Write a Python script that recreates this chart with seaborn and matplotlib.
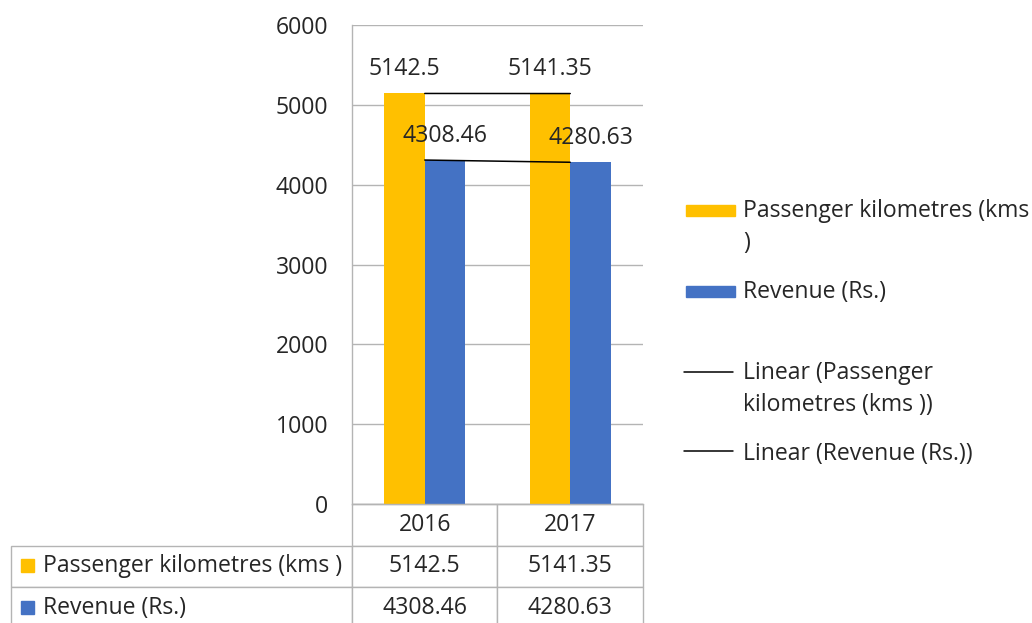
import pandas as pd
import seaborn as sns
import matplotlib.pyplot as plt
from matplotlib.table import Table
from matplotlib.patches import Rectangle

years = ["2016", "2017"]
series = ["Passenger kilometres (kms )", "Revenue (Rs.)"]
passenger_km = [5142.5, 5141.35]
revenue = [4308.46, 4280.63]
y_ticks = [0, 1000, 2000, 3000, 4000, 5000, 6000]
colors = {series[0]: "#FFC000", series[1]: "#4472C4"}

W, H = 1032, 623
GRID = "#B4B4B4"
TXT = "#262626"
FS = 16.6


def make_chart(out="out.png"):
    sns.set_style("white")
    plt.rcParams["font.family"] = ["Open Sans", "DejaVu Sans"]

    df = pd.DataFrame({
        "year": years * 2,
        "series": [series[0]] * 2 + [series[1]] * 2,
        "value": passenger_km + revenue,
    })

    fig = plt.figure(figsize=(W / 100, H / 100), dpi=100)
    # plot area in pixel terms: x 352..643, y 25..504
    ax = fig.add_axes([352 / W, 1 - 504 / H, (643 - 352) / W, (504 - 25) / H])

    sns.barplot(data=df, x="year", y="value", hue="series", palette=colors,
                width=0.56, saturation=1, legend=False, linewidth=0,
                edgecolor="none", ax=ax)

    # linear trend lines through the two years
    for vals in (passenger_km, revenue):
        sns.regplot(x=[0, 1], y=vals, scatter=False, ci=None, truncate=True,
                    line_kws={"color": "black", "lw": 1.1}, ax=ax)

    for cont in ax.containers:
        ax.bar_label(cont, fmt="{:g}", padding=9, fontsize=FS, color=TXT)

    ax.set_xlim(-0.5, 1.5)
    ax.set_ylim(0, 6000)
    ax.set_yticks(y_ticks)
    ax.set_xlabel("")
    ax.set_ylabel("")
    ax.tick_params(axis="x", length=0, labelbottom=False)
    ax.tick_params(axis="y", length=0, pad=17, labelsize=FS, labelcolor=TXT)
    ax.yaxis.grid(True, color=GRID, lw=1)
    ax.set_axisbelow(True)
    for s in ("top", "right"):
        ax.spines[s].set_visible(False)
    for s in ("left", "bottom"):
        ax.spines[s].set_color(GRID)
        ax.spines[s].set_linewidth(1)

    # data table under the plot
    ax_w, ax_h = 643 - 352, 504 - 25
    tab = Table(ax, bbox=[(11 - 352) / ax_w, -(629 - 504) / ax_h, 632 / ax_w, 125 / ax_h])
    col_w = [341 / 632, 145.5 / 632, 145.5 / 632]
    rows = [[""] + years,
            [series[0]] + [f"{v:g}" for v in passenger_km],
            [series[1]] + [f"{v:g}" for v in revenue]]
    for r, row in enumerate(rows):
        for c, txt in enumerate(row):
            if r == 0 and c == 0:
                continue
            cell = tab.add_cell(r, c, col_w[c], 1 / 3, text=txt,
                                loc="left" if c == 0 else "center")
            cell.set_edgecolor(GRID)
            cell.set_linewidth(1)
            cell.get_text().set_fontsize(FS)
            cell.get_text().set_color(TXT)
            if c == 0:
                cell.PAD = 0.094
    tab.auto_set_font_size(False)
    ax.add_table(tab)

    # legend and table keys, laid out in pixel coords
    lax = fig.add_axes([0, 0, 1, 1])
    lax.set_xlim(0, W)
    lax.set_ylim(H, 0)
    lax.axis("off")

    lax.add_patch(Rectangle((21, 559), 13, 13, color=colors[series[0]]))
    lax.add_patch(Rectangle((21, 601), 13, 13, color=colors[series[1]]))

    lax.add_patch(Rectangle((686, 205), 49, 11, color=colors[series[0]]))
    lax.add_patch(Rectangle((686, 286), 49, 11, color=colors[series[1]]))
    lax.plot([684, 733], [372, 372], color="black", lw=1.1)
    lax.plot([684, 733], [451, 451], color="black", lw=1.1)

    legend_lines = [
        ("Passenger kilometres (kms", 217),
        (")", 249),
        ("Revenue (Rs.)", 298),
        ("Linear (Passenger", 379),
        ("kilometres (kms ))", 411),
        ("Linear (Revenue (Rs.))", 460),
    ]
    for txt, base in legend_lines:
        lax.text(743, base, txt, fontsize=FS, va="baseline", ha="left", color=TXT)

    fig.savefig(out, dpi=100)


if __name__ == "__main__":
    make_chart()
